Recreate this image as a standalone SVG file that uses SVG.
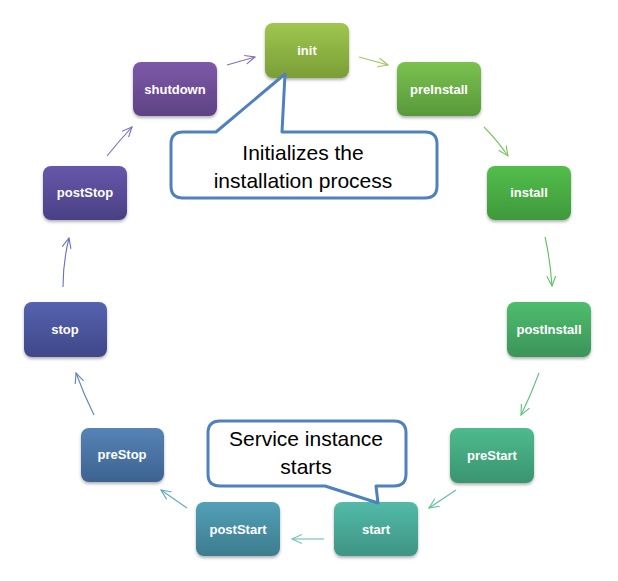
<svg xmlns="http://www.w3.org/2000/svg" width="618" height="581" viewBox="0 0 618 581">
<style>
.nl{font-family:"Liberation Sans",Arial,sans-serif;font-weight:bold;font-size:13px;fill:#ffffff;text-anchor:middle}
.ct{font-family:"Liberation Sans",Arial,sans-serif;font-size:21px;fill:#000000;text-anchor:middle}
.co{fill:#ffffff;stroke:#4F81BD;stroke-width:3;stroke-linejoin:round}
.ar{fill:none;stroke-width:1.1}
</style>
<defs>
<filter id="sh" x="-10%" y="-10%" width="125%" height="130%">
<feDropShadow dx="0" dy="2" stdDeviation="1.6" flood-color="#000" flood-opacity="0.3"/>
</filter>
<linearGradient id="g-init" x1="0" y1="0" x2="0" y2="1"><stop offset="0" stop-color="#9FC64F"/><stop offset="1" stop-color="#7A9E36"/></linearGradient>
<linearGradient id="g-preInstall" x1="0" y1="0" x2="0" y2="1"><stop offset="0" stop-color="#7AC150"/><stop offset="1" stop-color="#58993A"/></linearGradient>
<linearGradient id="g-install" x1="0" y1="0" x2="0" y2="1"><stop offset="0" stop-color="#53BE4B"/><stop offset="1" stop-color="#3E993B"/></linearGradient>
<linearGradient id="g-postInstall" x1="0" y1="0" x2="0" y2="1"><stop offset="0" stop-color="#4EBD6D"/><stop offset="1" stop-color="#3B945A"/></linearGradient>
<linearGradient id="g-preStart" x1="0" y1="0" x2="0" y2="1"><stop offset="0" stop-color="#4DBB8D"/><stop offset="1" stop-color="#3A9470"/></linearGradient>
<linearGradient id="g-start" x1="0" y1="0" x2="0" y2="1"><stop offset="0" stop-color="#53BAA8"/><stop offset="1" stop-color="#3E9484"/></linearGradient>
<linearGradient id="g-postStart" x1="0" y1="0" x2="0" y2="1"><stop offset="0" stop-color="#53A0B6"/><stop offset="1" stop-color="#3D7C8E"/></linearGradient>
<linearGradient id="g-preStop" x1="0" y1="0" x2="0" y2="1"><stop offset="0" stop-color="#5583B7"/><stop offset="1" stop-color="#3D638F"/></linearGradient>
<linearGradient id="g-stop" x1="0" y1="0" x2="0" y2="1"><stop offset="0" stop-color="#5563AF"/><stop offset="1" stop-color="#404789"/></linearGradient>
<linearGradient id="g-postStop" x1="0" y1="0" x2="0" y2="1"><stop offset="0" stop-color="#6757AA"/><stop offset="1" stop-color="#4A4085"/></linearGradient>
<linearGradient id="g-shutdown" x1="0" y1="0" x2="0" y2="1"><stop offset="0" stop-color="#7D59A8"/><stop offset="1" stop-color="#5E4284"/></linearGradient>
<marker id="m1" markerUnits="userSpaceOnUse" markerWidth="14" markerHeight="12" refX="10" refY="5" orient="auto"><path d="M0,0.5 L10,5 L0,9.5" fill="none" stroke="#8A6CB8" stroke-width="1.1"/></marker>
<marker id="m2" markerUnits="userSpaceOnUse" markerWidth="14" markerHeight="12" refX="10" refY="5" orient="auto"><path d="M0,0.5 L10,5 L0,9.5" fill="none" stroke="#A0C660" stroke-width="1.1"/></marker>
<marker id="m3" markerUnits="userSpaceOnUse" markerWidth="14" markerHeight="12" refX="10" refY="5" orient="auto"><path d="M0,0.5 L10,5 L0,9.5" fill="none" stroke="#80C262" stroke-width="1.1"/></marker>
<marker id="m4" markerUnits="userSpaceOnUse" markerWidth="14" markerHeight="12" refX="10" refY="5" orient="auto"><path d="M0,0.5 L10,5 L0,9.5" fill="none" stroke="#5EC060" stroke-width="1.1"/></marker>
<marker id="m5" markerUnits="userSpaceOnUse" markerWidth="14" markerHeight="12" refX="10" refY="5" orient="auto"><path d="M0,0.5 L10,5 L0,9.5" fill="none" stroke="#5EC07C" stroke-width="1.1"/></marker>
<marker id="m6" markerUnits="userSpaceOnUse" markerWidth="14" markerHeight="12" refX="10" refY="5" orient="auto"><path d="M0,0.5 L10,5 L0,9.5" fill="none" stroke="#5EC09A" stroke-width="1.1"/></marker>
<marker id="m7" markerUnits="userSpaceOnUse" markerWidth="14" markerHeight="12" refX="10" refY="5" orient="auto"><path d="M0,0.5 L10,5 L0,9.5" fill="none" stroke="#6CC2B2" stroke-width="1.1"/></marker>
<marker id="m8" markerUnits="userSpaceOnUse" markerWidth="14" markerHeight="12" refX="10" refY="5" orient="auto"><path d="M0,0.5 L10,5 L0,9.5" fill="none" stroke="#5EA8C0" stroke-width="1.1"/></marker>
<marker id="m9" markerUnits="userSpaceOnUse" markerWidth="14" markerHeight="12" refX="10" refY="5" orient="auto"><path d="M0,0.5 L10,5 L0,9.5" fill="none" stroke="#5E82BC" stroke-width="1.1"/></marker>
<marker id="m10" markerUnits="userSpaceOnUse" markerWidth="14" markerHeight="12" refX="10" refY="5" orient="auto"><path d="M0,0.5 L10,5 L0,9.5" fill="none" stroke="#6672BA" stroke-width="1.1"/></marker>
<marker id="m11" markerUnits="userSpaceOnUse" markerWidth="14" markerHeight="12" refX="10" refY="5" orient="auto"><path d="M0,0.5 L10,5 L0,9.5" fill="none" stroke="#7A68BA" stroke-width="1.1"/></marker>
</defs>
<rect width="618" height="581" fill="#ffffff"/>
<g id="connectors">
<path class="ar" stroke="#8A6CB8" marker-end="url(#m1)" d="M227,65 L255,57"/>
<path class="ar" stroke="#A0C660" marker-end="url(#m2)" d="M359,57 L388,65"/>
<path class="ar" stroke="#80C262" marker-end="url(#m3)" d="M484,127 Q497,140 508,156"/>
<path class="ar" stroke="#5EC060" marker-end="url(#m4)" d="M545,237 Q550,258 552,286"/>
<path class="ar" stroke="#5EC07C" marker-end="url(#m5)" d="M539,373 Q531,395 521,415"/>
<path class="ar" stroke="#5EC09A" marker-end="url(#m6)" d="M456,490 L429,508"/>
<path class="ar" stroke="#6CC2B2" marker-end="url(#m7)" d="M324,539 L292,539"/>
<path class="ar" stroke="#5EA8C0" marker-end="url(#m8)" d="M187,508 L161,490"/>
<path class="ar" stroke="#5E82BC" marker-end="url(#m9)" d="M94,415 Q84,395 76,373"/>
<path class="ar" stroke="#6672BA" marker-end="url(#m10)" d="M63,287 Q63,262 69,238"/>
<path class="ar" stroke="#7A68BA" marker-end="url(#m11)" d="M107,156 Q119,141 132,127"/>
</g>
<g id="node-init"><rect x="265" y="23" width="84" height="55" rx="8" fill="url(#g-init)" filter="url(#sh)"/><text class="nl" x="307" y="55">init</text></g>
<g id="node-preInstall"><rect x="397" y="62" width="84" height="54" rx="8" fill="url(#g-preInstall)" filter="url(#sh)"/><text class="nl" x="439" y="94">preInstall</text></g>
<g id="node-install"><rect x="487" y="166" width="84" height="54" rx="8" fill="url(#g-install)" filter="url(#sh)"/><text class="nl" x="529" y="197">install</text></g>
<g id="node-postInstall"><rect x="507" y="302" width="84" height="55" rx="8" fill="url(#g-postInstall)" filter="url(#sh)"/><text class="nl" x="549" y="334">postInstall</text></g>
<g id="node-preStart"><rect x="450" y="428" width="84" height="55" rx="8" fill="url(#g-preStart)" filter="url(#sh)"/><text class="nl" x="492" y="460">preStart</text></g>
<g id="node-start"><rect x="334" y="502" width="84" height="54" rx="8" fill="url(#g-start)" filter="url(#sh)"/><text class="nl" x="376" y="534">start</text></g>
<g id="node-postStart"><rect x="196" y="502" width="84" height="54" rx="8" fill="url(#g-postStart)" filter="url(#sh)"/><text class="nl" x="238" y="534">postStart</text></g>
<g id="node-preStop"><rect x="81" y="428" width="83" height="54" rx="8" fill="url(#g-preStop)" filter="url(#sh)"/><text class="nl" x="122" y="459">preStop</text></g>
<g id="node-stop"><rect x="24" y="302" width="83" height="55" rx="8" fill="url(#g-stop)" filter="url(#sh)"/><text class="nl" x="65" y="334">stop</text></g>
<g id="node-postStop"><rect x="43" y="166" width="84" height="54" rx="8" fill="url(#g-postStop)" filter="url(#sh)"/><text class="nl" x="85" y="197">postStop</text></g>
<g id="node-shutdown"><rect x="133" y="62" width="84" height="54" rx="8" fill="url(#g-shutdown)" filter="url(#sh)"/><text class="nl" x="175" y="94">shutdown</text></g>
<g id="callout-init">
<path class="co" d="M183,132 L216,132 L285,74 L282,132 L425,132 Q437,132 437,144 L437,186 Q437,198 425,198 L183,198 Q171,198 171,186 L171,144 Q171,132 183,132 Z"/>
<text class="ct" x="303" y="160">Initializes the</text>
<text class="ct" x="303" y="188">installation process</text>
</g>
<g id="callout-start">
<path class="co" d="M220,421 L394,421 Q406,421 406,433 L406,474 Q406,486 394,486 L376,486 L378,503 L325,486 L220,486 Q208,486 208,474 L208,433 Q208,421 220,421 Z"/>
<text class="ct" x="306" y="446">Service instance</text>
<text class="ct" x="306" y="474">starts</text>
</g>
</svg>
